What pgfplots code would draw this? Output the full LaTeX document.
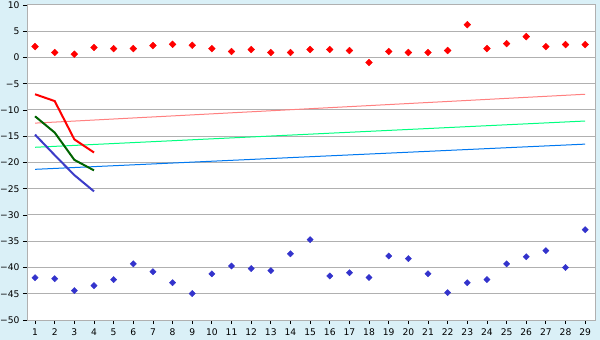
\documentclass[border=0pt]{standalone}
\usepackage{fontspec}
\setmainfont{DejaVu Sans}
\usepackage{pgfplots}
\pgfplotsset{compat=1.18}
\definecolor{bgblue}{RGB}{218,240,247}
\definecolor{gridgray}{RGB}{176,176,176}
\definecolor{ptred}{RGB}{255,0,0}
\definecolor{ptblue}{RGB}{51,51,204}
\definecolor{thinred}{RGB}{255,128,128}
\definecolor{thingreen}{RGB}{0,255,128}
\definecolor{thinblue}{RGB}{0,120,240}
\definecolor{thickgreen}{RGB}{0,100,0}
\definecolor{thickblue}{RGB}{60,60,200}
\begin{document}
\begin{tikzpicture}
\fill[bgblue] (0,0) rectangle (600bp,340bp);
\useasboundingbox (0,0) rectangle (600bp,340bp);
\begin{axis}[
  at={(27bp,20bp)}, anchor=south west,
  scale only axis, width=568bp, height=315bp,
  xmin=0.59, xmax=29.5, ymin=-50, ymax=10,
  axis background/.style={fill=white},
  axis line style={gridgray, line width=1bp},
  xtick={1,...,29},
  ytick={-50,-45,...,10},
  yticklabels={−50,−45,−40,−35,−30,−25,−20,−15,−10,−5,0,5,10},
  ymajorgrids, grid style={gridgray, line width=1bp},
  tick align=outside, xtick pos=bottom, ytick pos=left,
  major tick length=4bp,
  tick style={black, line width=0.8bp},
  ticklabel style={font=\fontsize{9.2}{10}\selectfont},
  /pgf/number format/assume math mode=true,
  xticklabel style={yshift=-1bp},
  clip=false,
]
% thin trend lines
\addplot[thinred, line width=1bp] coordinates {(1,-12.5) (29,-7.0)};
\addplot[thingreen, line width=1bp] coordinates {(1,-17.1) (29,-12.1)};
\addplot[thinblue, line width=1bp] coordinates {(1,-21.3) (29,-16.5)};
% thick lines
\addplot[ptred, line width=2bp] coordinates {(1,-7.0) (2,-8.3) (3,-15.6) (4,-18.1)};
\addplot[thickgreen, line width=2bp] coordinates {(1,-11.2) (2,-14.3) (3,-19.5) (4,-21.5)};
\addplot[thickblue, line width=2bp] coordinates {(1,-14.7) (2,-18.6) (3,-22.4) (4,-25.5)};
% red points
\addplot[only marks, mark=square*, mark size=2.4bp, mark options={rotate=45}, color=ptred] coordinates {
(1,2.08) (2,0.95) (3,0.63) (4,1.9) (5,1.7) (6,1.7) (7,2.27) (8,2.52) (9,2.33)
(10,1.7) (11,1.14) (12,1.52) (13,0.95) (14,0.95) (15,1.52) (16,1.52) (17,1.33) (18,-0.95) (19,1.14)
(20,0.95) (21,0.95) (22,1.33) (23,6.26) (24,1.7) (25,2.65) (26,3.98) (27,2.08) (28,2.46) (29,2.46)};
% blue points
\addplot[only marks, mark=square*, mark size=2.2bp, mark options={rotate=45}, color=ptblue] coordinates {
(1,-41.94) (2,-42.13) (3,-44.4) (4,-43.45) (5,-42.3) (6,-39.3) (7,-40.8) (8,-42.9) (9,-44.97)
(10,-41.2) (11,-39.7) (12,-40.2) (13,-40.6) (14,-37.4) (15,-34.7) (16,-41.6) (17,-41.0) (18,-41.9) (19,-37.8)
(20,-38.3) (21,-41.2) (22,-44.8) (23,-42.9) (24,-42.3) (25,-39.3) (26,-37.95) (27,-36.8) (28,-40.0) (29,-32.8)};
\end{axis}
\end{tikzpicture}
\end{document}
